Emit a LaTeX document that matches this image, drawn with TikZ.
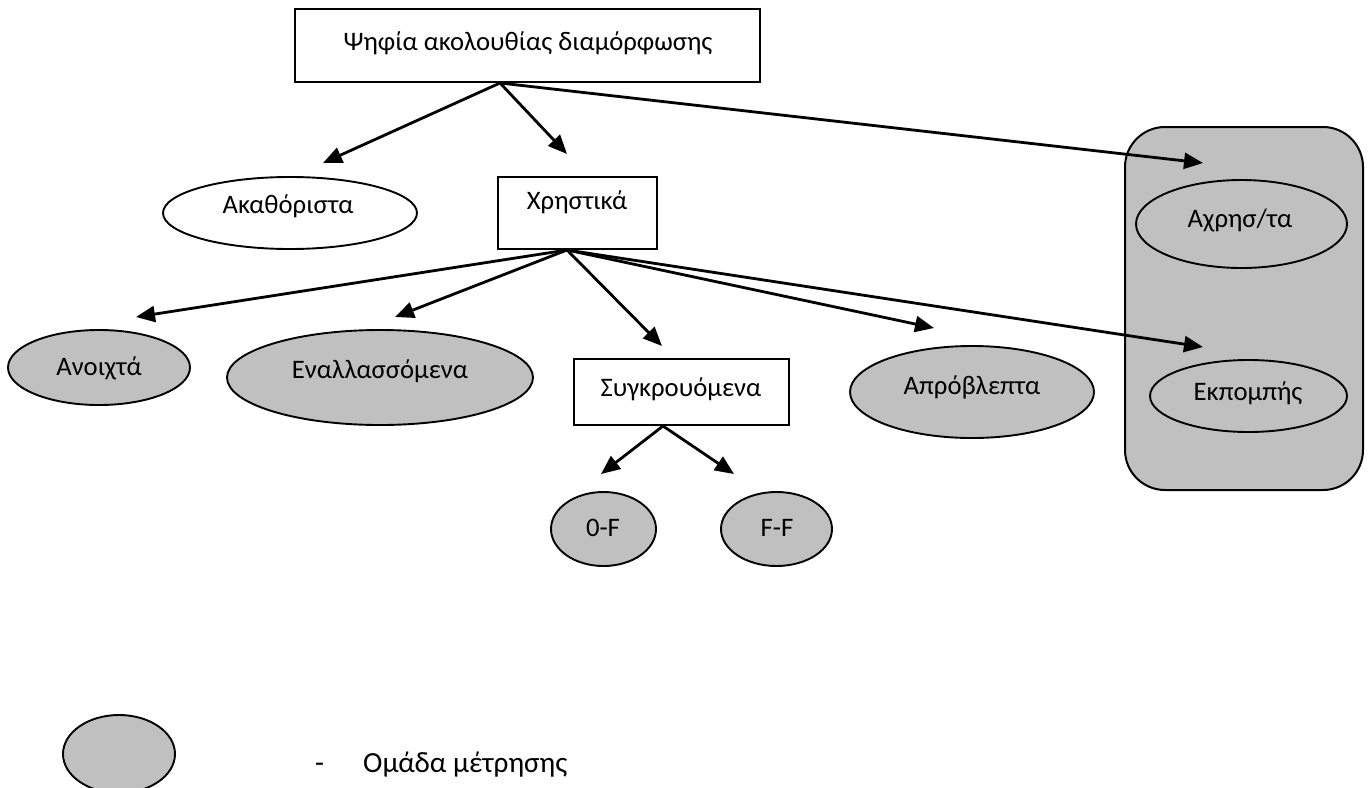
\documentclass[tikz,border=0pt]{standalone}
\usepackage{fontspec}
\setmainfont{Carlito}
\usetikzlibrary{arrows.meta,shapes.geometric}
\definecolor{grp}{RGB}{192,192,192}
\tikzset{
  conn/.style={line width=2.8pt,-{Triangle[length=19pt,width=16pt]}},
  rbox/.style={draw,line width=2pt,fill=white,rectangle,inner sep=0pt},
  gell/.style={draw,line width=1.9pt,fill=grp,ellipse,inner sep=0pt},
  well/.style={draw,line width=1.9pt,fill=white,ellipse,inner sep=0pt},
  lbl/.style={anchor=base,inner sep=0pt,font=\fontsize{26.7}{30}\selectfont},
  leglbl/.style={anchor=base west,inner sep=0pt,font=\fontsize{29.2}{33}\selectfont},
}
\begin{document}
\begin{tikzpicture}[x=1pt,y=-1pt]
\fill[white] (0,0) rectangle (1370,787);
\useasboundingbox (0,0) rectangle (1370,787);

% group container
\node[draw,line width=2pt,fill=grp,rounded corners=40pt,minimum width=238pt,minimum height=363pt,inner sep=0pt] (grp) at (1244,308.5) {};

% boxes
\node[rbox,minimum width=465pt,minimum height=73pt] (top) at (527.5,45.5) {};
\node[lbl] (ttop) at (528,50) {Ψηφία ακολουθίας διαμόρφωσης};
\node[rbox,minimum width=159pt,minimum height=72pt] (xr) at (577.5,213) {};
\node[lbl] (txr) at (577,209) {Χρηστικά};
\node[rbox,minimum width=215pt,minimum height=66pt] (sy) at (681.5,392) {};
\node[lbl] (tsy) at (681,396) {Συγκρουόμενα};

% ellipses
\node[well,minimum width=254pt,minimum height=72pt] (ak) at (290,213) {};
\node[lbl] (tak) at (288,213) {Ακαθόριστα};
\node[gell,minimum width=182pt,minimum height=75pt] (an) at (99,367.5) {};
\node[lbl] (tan) at (99,375) {Ανοιχτά};
\node[gell,minimum width=306pt,minimum height=95pt] (en) at (380,377.5) {};
\node[lbl] (ten) at (380,378) {Εναλλασσόμενα};
\node[gell,minimum width=244pt,minimum height=92pt] (ap) at (972,392) {};
\node[lbl] (tap) at (972,394) {Απρόβλεπτα};
\node[gell,minimum width=211pt,minimum height=88pt] (ax) at (1241.5,224) {};
\node[lbl] (tax) at (1240,227) {Αχρησ/τα};
\node[gell,minimum width=197pt,minimum height=72pt] (ek) at (1248.5,396) {};
\node[lbl] (tek) at (1248,400) {Εκπομπής};
\node[gell,minimum width=105pt,minimum height=74pt] (of) at (603.5,529) {};
\node[lbl] (tof) at (603,536) {0-F};
\node[gell,minimum width=111pt,minimum height=74pt] (ff) at (776.5,529) {};
\node[lbl] (tff) at (777,536) {F-F};

% legend
\node[gell,minimum width=112pt,minimum height=78pt] (leg) at (119,754) {};
\node[leglbl] (tdash) at (315,772) {-};
\node[leglbl] (tleg) at (363,772) {Ομάδα μέτρησης};

% arrow tips
\coordinate (pak) at (323,163);
\coordinate (pxr) at (567,154);
\coordinate (pax) at (1203,163);
\coordinate (pan) at (136,317);
\coordinate (pen) at (395,317);
\coordinate (psy) at (662,346);
\coordinate (pap) at (934,328);
\coordinate (pek) at (1203,347);
\coordinate (pof) at (601,474);
\coordinate (pff) at (734,474);

% connectors
\draw[conn] ([xshift=-27.5pt]top.south) -- (pak);
\draw[conn] ([xshift=-27.5pt]top.south) -- (pxr);
\draw[conn] ([xshift=-27.5pt]top.south) -- (pax);
\draw[conn] ([xshift=-10.5pt]xr.south) -- (pan);
\draw[conn] ([xshift=-10.5pt]xr.south) -- (pen);
\draw[conn] ([xshift=-10.5pt]xr.south) -- (psy);
\draw[conn] ([xshift=-10.5pt]xr.south) -- (pap);
\draw[conn] ([xshift=-10.5pt]xr.south) -- (pek);
\draw[conn] ([xshift=-18.5pt]sy.south) -- (pof);
\draw[conn] ([xshift=-18.5pt]sy.south) -- (pff);
\end{tikzpicture}
\end{document}
